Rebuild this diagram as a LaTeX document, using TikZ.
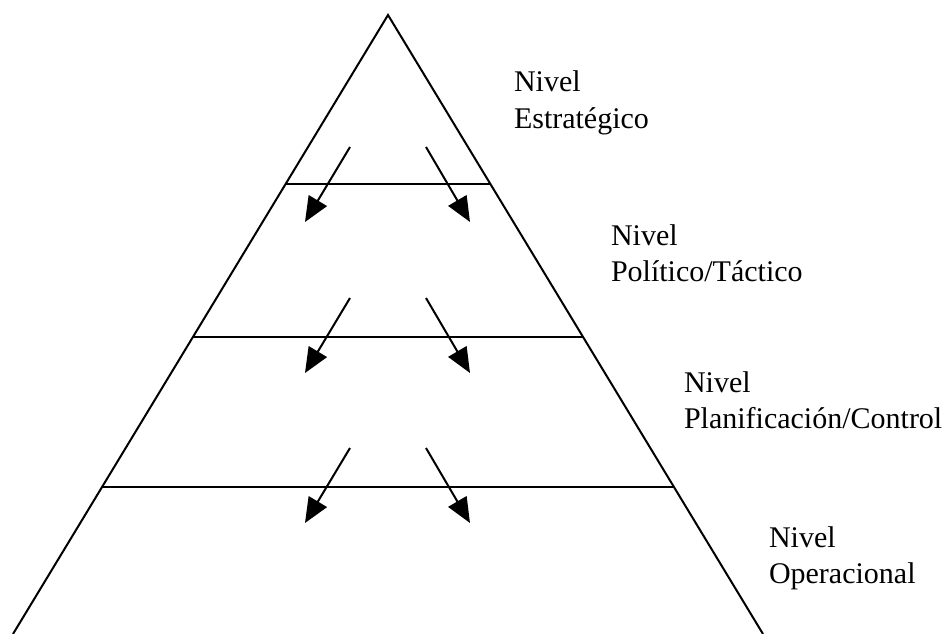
\documentclass[tikz,border=0pt]{standalone}
\usepackage{fontspec}
\setmainfont{Liberation Serif}
\usetikzlibrary{arrows.meta}
\usetikzlibrary{calc}
\tikzset{flow/.style = {-{Triangle[length=25pt, width=21pt]}}}
\tikzset{level/.style = {anchor=base west, inner sep=0, align=left,
                         font=\fontsize{30}{36}\selectfont}}

\begin{document}
\begin{tikzpicture}[x=1pt, y=-1pt, line width=2pt]
    \useasboundingbox (0, 0) rectangle (942, 634);
    % pyramid
    \coordinate (apex) at (388, 15);
    \coordinate (baseL) at (13, 634);
    \coordinate (baseR) at (763, 634);
    \draw (baseL) -- (apex) -- (baseR);
    \draw ($(apex)!0.273!(baseL)$) -- ($(apex)!0.273!(baseR)$);
    \draw ($(apex)!0.520!(baseL)$) -- ($(apex)!0.520!(baseR)$);
    \draw ($(apex)!0.7625!(baseL)$) -- ($(apex)!0.7625!(baseR)$);
    % arrows between levels
    \coordinate (a1s) at (350, 147);
    \coordinate (a1t) at (305, 222);
    \coordinate (b1s) at (426, 147);
    \coordinate (b1t) at (470, 222);
    \coordinate (a2s) at (350, 298);
    \coordinate (a2t) at (305, 373);
    \coordinate (b2s) at (426, 298);
    \coordinate (b2t) at (470, 373);
    \coordinate (a3s) at (350, 448);
    \coordinate (a3t) at (305, 523);
    \coordinate (b3s) at (426, 448);
    \coordinate (b3t) at (470, 523);
    \draw [flow] (a1s) -- (a1t);
    \draw [flow] (b1s) -- (b1t);
    \draw [flow] (a2s) -- (a2t);
    \draw [flow] (b2s) -- (b2t);
    \draw [flow] (a3s) -- (a3t);
    \draw [flow] (b3s) -- (b3t);
    % labels (base = last line)
    \node [level] (estrategico) at (513, 128) {Nivel\\Estratégico};
    \node [level] (tactico) at (610, 281) {Nivel\\Político/Táctico};
    \node [level] (control) at (683, 428) {Nivel\\Planificación/Control};
    \node [level] (operacional) at (768, 583) {Nivel\\Operacional};
\end{tikzpicture}
\end{document}
